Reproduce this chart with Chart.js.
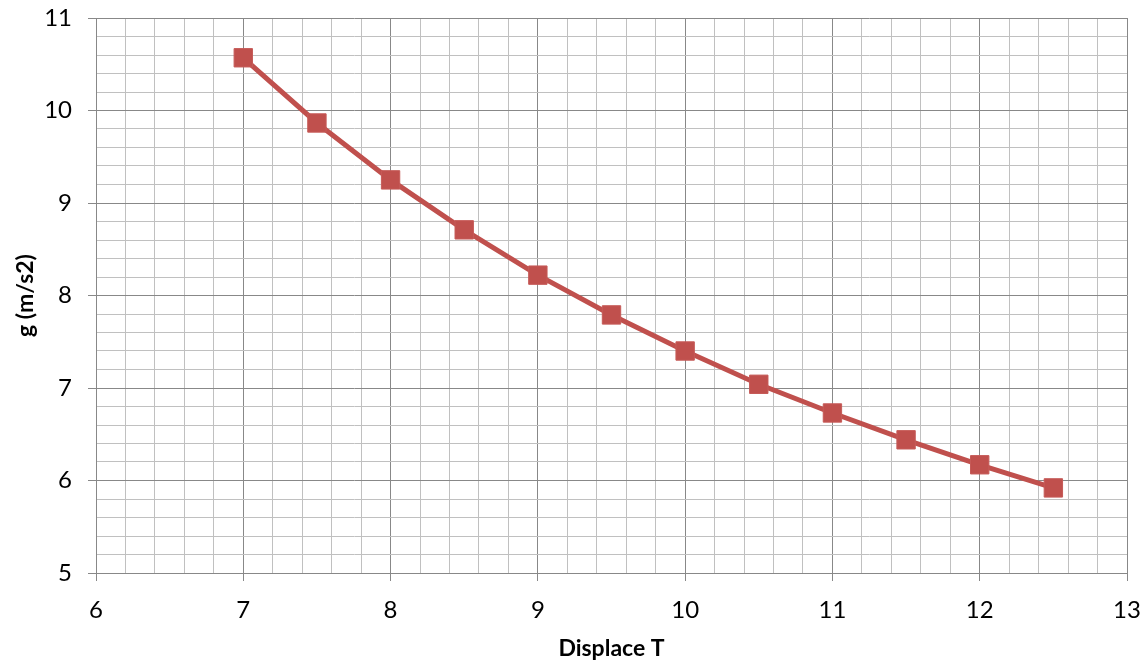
<!DOCTYPE html>
<html>
<head>
<meta charset="utf-8">
<script src="https://cdn.jsdelivr.net/npm/chart.js@4.4.0/dist/chart.umd.min.js"></script>
<style>
  html, body { margin: 0; padding: 0; background: #ffffff; }
  #wrap { width: 1141px; height: 663px; }
</style>
</head>
<body>
<div id="wrap"><canvas id="c" width="1141" height="663"></canvas></div>
<script>
// Measured period T and the resulting g (m/s2)
const periods = [7, 7.5, 8, 8.5, 9, 9.5, 10, 10.5, 11, 11.5, 12, 12.5];
const gValues = [10.57, 9.865, 9.25, 8.71, 8.22, 7.79, 7.40, 7.04, 6.73, 6.44, 6.17, 5.92];

// Axis ranges and grid spacing
const xBounds = [6, 13];
const yBounds = [5, 11];
const minorStep = 0.2;

const MAJOR = '#888888';
const MINOR = '#c0c0c0';
const SERIES = '#C0504D';

const isMajor = v => Math.abs(v - Math.round(v)) < 1e-6;

function axisOptions(bounds, titleText, titlePadding, tickPadding) {
  return {
    type: 'linear',
    min: bounds[0],
    max: bounds[1],
    title: {
      display: true,
      text: titleText,
      color: '#000000',
      font: { family: 'Lato', size: 23, weight: 'bold' },
      padding: titlePadding
    },
    ticks: {
      stepSize: minorStep,
      autoSkip: false,
      maxRotation: 0,
      color: '#000000',
      padding: tickPadding,
      font: { family: 'Lato', size: 24 },
      callback: v => isMajor(v) ? String(Math.round(v)) : ''
    },
    grid: {
      color: ctx => isMajor(ctx.tick.value) ? MAJOR : MINOR,
      tickColor: ctx => isMajor(ctx.tick.value) ? MAJOR : 'rgba(0,0,0,0)',
      tickLength: 8,
      lineWidth: 1
    },
    border: { color: MAJOR, width: 1 }
  };
}

// Fixed axis boxes so the plot area sits at a known place
const xAxis = axisOptions(xBounds, 'Displace T', { top: 0, bottom: 1 }, 15);
xAxis.afterFit = s => { s.height = 90; s.paddingLeft = 0; s.paddingRight = 0; };
const yAxis = axisOptions(yBounds, 'g (m/s2)', { top: 12, bottom: 0 }, 16);
yAxis.afterFit = s => { s.width = 96; s.paddingTop = 0; s.paddingBottom = 0; };

new Chart(document.getElementById('c'), {
  type: 'scatter',
  data: {
    datasets: [{
      label: 'g',
      data: periods.map((t, i) => ({ x: t, y: gValues[i] })),
      showLine: true,
      borderColor: SERIES,
      borderWidth: 5,
      tension: 0,
      pointStyle: 'rect',
      pointRadius: 13,
      pointHoverRadius: 13,
      pointBackgroundColor: SERIES,
      pointBorderColor: '#c65b58',
      pointBorderWidth: 1
    }]
  },
  options: {
    responsive: false,
    animation: false,
    layout: { padding: { top: 18, right: 13, left: 0, bottom: 0 } },
    plugins: {
      legend: { display: false },
      tooltip: { enabled: false }
    },
    scales: { x: xAxis, y: yAxis }
  }
});
</script>
</body>
</html>
